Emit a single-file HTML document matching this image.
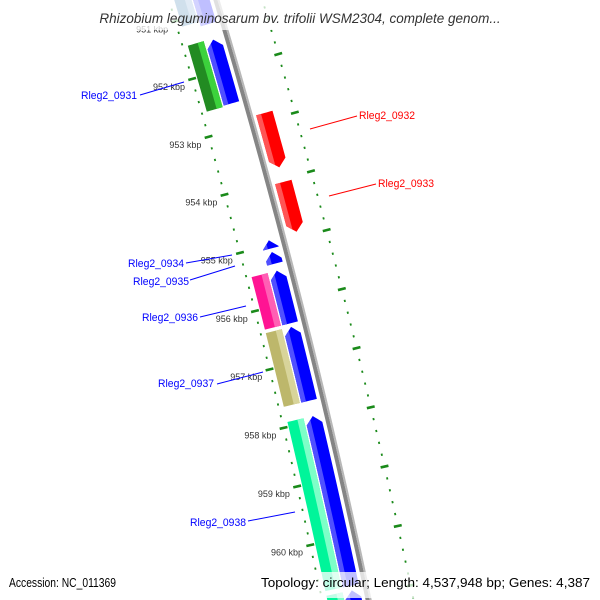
<!DOCTYPE html>
<html><head><meta charset="utf-8"><style>
html,body{margin:0;padding:0;background:#fff;width:600px;height:600px;overflow:hidden}
svg{display:block;font-family:"Liberation Sans",sans-serif}
</style></head><body>
<svg id="map" width="600" height="600" viewBox="0 0 600 600" xmlns="http://www.w3.org/2000/svg">
<g id="rings"></g>
<g id="backbone"></g>
<g id="features"></g>
<g id="kbplabels"></g>
<g id="genelabels"></g>
<rect x="64" y="0" width="472" height="30" fill="#fff" opacity="0.75"/>
<text x="300" y="23" text-anchor="middle" font-size="13.5" font-style="italic" fill="#333">Rhizobium leguminosarum bv. trifolii WSM2304, complete genom...</text>
<rect x="5" y="572" width="116" height="24" fill="#fff" opacity="0.75"/>
<text x="9" y="587" font-size="13" fill="#000" textLength="107" lengthAdjust="spacingAndGlyphs">Accession: NC_011369</text>
<rect x="256" y="572" width="340" height="26" fill="#fff" opacity="0.75"/>
<text x="590" y="587" text-anchor="end" font-size="13" fill="#000" textLength="329" lengthAdjust="spacingAndGlyphs">Topology: circular; Length: 4,537,948 bp; Genes: 4,387</text>
</svg>
<script>
// ---- data arrays ----
const featStart = [950.5, 950.5, 951.47, 951.45, 952.87, 954.05, 954.92, 955.12, 955.44, 955.44, 956.40, 956.40, 957.92, 957.92, 960.88, 960.88];
const featEnd   = [951.2, 951.12, 952.57, 952.59, 953.80, 954.90, 955.06, 955.32, 956.34, 956.34, 957.66, 957.66, 960.80, 960.80, 961.6, 961.6];
const featLane  = ["minus","cog","minus","cog","plus","plus","minus","minus","minus","cog","minus","cog","minus","cog","minus","cog"];
const featArrow = ["none","none","start","none","end","end","start","start","start","none","start","none","start","none","start","none"];
const featColor = ["#0000ff","#4682b4","#0000ff","#228b22","#ff0000","#ff0000","#0000ff","#0000ff","#0000ff","#ff1493","#0000ff","#bdb76b","#0000ff","#00f59a","#0000ff","#00f59a"];
const featHi    = ["#5050ff","#87b0d8","#5050ff","#3cd23c","#ff5555","#ff5555","#5050ff","#5050ff","#5050ff","#ff5fb4","#5050ff","#d8d49a","#5050ff","#7dffc8","#5050ff","#7dffc8"];
const majorTicks = [951, 952, 953, 954, 955, 956, 957, 958, 959, 960, 961];
const tickLabels = ["951 kbp","952 kbp","953 kbp","954 kbp","955 kbp","956 kbp","957 kbp","958 kbp","959 kbp","960 kbp","961 kbp"];
const geneNames = ["Rleg2_0931","Rleg2_0932","Rleg2_0933","Rleg2_0934","Rleg2_0935","Rleg2_0936","Rleg2_0937","Rleg2_0938"];
const geneLabelColor = ["#0000ff","#ff0000","#ff0000","#0000ff","#0000ff","#0000ff","#0000ff","#0000ff"];

// ---- geometry ----
const NS = "http://www.w3.org/2000/svg";
const CX = -6942, CY = 2134.6, R0 = 7470;
function polar(k, v){
  const t = (-14.682 + (k-955)*0.464) * Math.PI/180;
  const r = R0 + v;
  return [CX + r*Math.cos(t), CY + r*Math.sin(t)];
}
const lanes = {minus:[-22.5,-6.5], cog:[-40.5,-24], plus:[6,23]};
function mk(tag, attrs, parent){
  const e = document.createElementNS(NS, tag);
  for (const a in attrs) e.setAttribute(a, attrs[a]);
  parent.appendChild(e); return e;
}
function arcPath(k1,k2,v){
  let d=""; const n=24;
  for(let i=0;i<=n;i++){const p=polar(k1+(k2-k1)*i/n,v); d+=(i?"L":"M")+p[0].toFixed(2)+","+p[1].toFixed(2);}
  return d;
}

// backbone
const bb = document.getElementById("backbone");
const bb1 = mk("path",{d:arcPath(949.5,961.8,-1),fill:"none",stroke:"#858585","stroke-width":4},bb);


const bb2 = mk("path",{d:arcPath(949.5,961.8,2),fill:"none",stroke:"#b8b8b8","stroke-width":2},bb);



// tick rings
const rings = document.getElementById("rings");
[-45.6, 44].forEach(function(rv, ri){
  for(let i=0;i<=60;i++){
    const k = 950 + i*0.2;
    const major = Math.abs(k-Math.round(k))<1e-6;
    const h = major?4:0.9;
    const a = polar(k, rv-h), b = polar(k, rv+h);
    const l = mk("line",{x1:a[0],y1:a[1],x2:b[0],y2:b[1],stroke:"#1a8a1a","stroke-width":major?2.6:2.2},rings);
    
    
  }
});

// features
const fg = document.getElementById("features");
function shape(i, va, vb){
  const [v1,v2] = lanes[featLane[i]];
  const vc=(v1+v2)/2, hw=(v2-v1)/2, head=0.13;
  const k1=featStart[i], k2=featEnd[i], ar=featArrow[i];
  function kS(v){ if(ar!=="start") return k1; return Math.min(k2, k1 + head*Math.abs(v-vc)/hw); }
  function kE(v){ if(ar!=="end") return k2; return Math.max(k1, k2 - head*Math.abs(v-vc)/hw); }
  const pts=[]; const m=8;
  for(let j=0;j<=m;j++){const v=va+(vb-va)*j/m; pts.push(polar(kS(v),v));}
  const sb=kS(vb), eb=kE(vb);
  for(let j=1;j<m;j++) pts.push(polar(sb+(eb-sb)*j/m, vb));
  for(let j=0;j<=m;j++){const v=vb+(va-vb)*j/m; pts.push(polar(kE(v),v));}
  const sa=kS(va), ea=kE(va);
  for(let j=m-1;j>0;j--) pts.push(polar(sa+(ea-sa)*j/m, va));
  return pts.map(p=>p[0].toFixed(2)+","+p[1].toFixed(2)).join(" ");
}
for(let i=0;i<featStart.length;i++){
  const [v1,v2] = lanes[featLane[i]];
  const g = mk("g",{},fg);
  
  
  mk("polygon",{points:shape(i,v1,v2),fill:featColor[i]},g);
  let ha, hb;
  if(featLane[i]==="cog"){ ha=v1+(v2-v1)*0.62; hb=v2; }
  else { ha=v1; hb=v1+(v2-v1)*0.3; }
  mk("polygon",{points:shape(i,ha,hb),fill:featHi[i]},g);
}

// kbp labels
const kl = document.getElementById("kbplabels");
for(let i=0;i<majorTicks.length;i++){
  const p = polar(majorTicks[i], -53);
  const t = mk("text",{x:p[0].toFixed(1),y:(p[1]+9).toFixed(1),"text-anchor":"end","font-size":"9",fill:"#333"},kl);
  t.textContent = tickLabels[i];
  
  
}

// gene labels (annotation positions)
const gl = document.getElementById("genelabels");
const labelPos = [[81,99,140,95,184,82],[359,119,310,129,357,116],[378,187,329,196,376,184],[128,267,186,263,232,255],[133,285,190,280,235,266],[142,321,200,317,246,306],[158,387,217,384,263,372],[190,526,248,521,295,512]];
for(let i=0;i<geneNames.length;i++){
  const q = labelPos[i];
  const ln = mk("line",{x1:q[2],y1:q[3],x2:q[4],y2:q[5],stroke:geneLabelColor[i],"stroke-width":1},gl);
  
  
  const t = mk("text",{x:q[0],y:q[1],"font-size":"11",fill:geneLabelColor[i],textLength:"56",lengthAdjust:"spacingAndGlyphs"},gl);
  t.textContent = geneNames[i];
  
  
}
</script>
</body></html>
